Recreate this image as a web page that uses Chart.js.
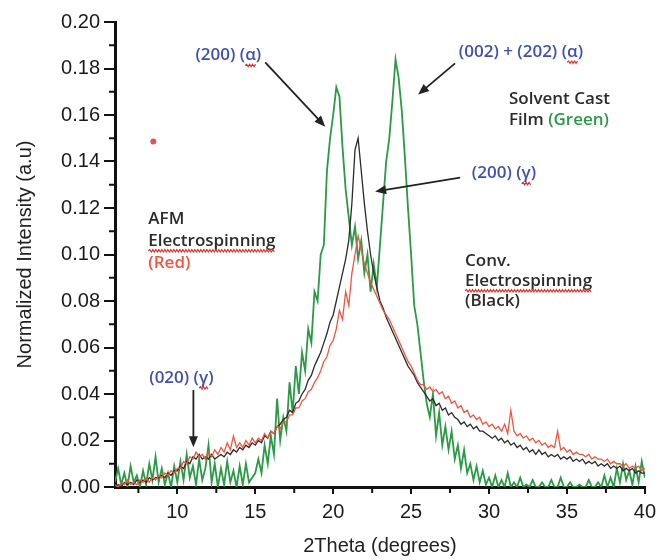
<!DOCTYPE html>
<html>
<head>
<meta charset="utf-8">
<script src="https://cdn.jsdelivr.net/npm/chart.js@4.4.1/dist/chart.umd.min.js"></script>
<style>
  html, body { margin: 0; padding: 0; background: #fff; }
  #wrap { width: 662px; height: 560px; }
</style>
</head>
<body>
<div id="wrap"><canvas id="xrdChart"></canvas></div>
<script>
// --- XRD patterns: solvent cast film vs. electrospun fibres ---

// 2Theta sampling grid (6..40 deg, every 0.2 deg)
const thetaStart = 6, thetaStep = 0.2, thetaCount = 171;
const twoTheta = Array.from({ length: thetaCount }, (_, i) => +(thetaStart + i * thetaStep).toFixed(1));

// Solvent cast film (green)
const filmGreen = [
  .002,.008,.001,.006,.000,.009,.002,.005,.000,.007,
  .001,.010,.003,.013,.002,.008,.001,.006,.000,.009,
  .002,.011,.003,.014,.004,.009,.001,.012,.003,.008,
  .018,.002,.010,.000,.008,.001,.011,.002,.007,.000,
  .009,.001,.010,.002,.004,.006,.012,.006,.018,.010,
  .022,.014,.038,.020,.030,.024,.045,.032,.052,.040,
  .058,.050,.068,.062,.084,.080,.100,.104,.136,.150,
  .160,.172,.168,.146,.128,.116,.104,.112,.098,.106,
  .092,.100,.084,.096,.086,.104,.122,.140,.150,.166,
  .184,.176,.162,.142,.120,.100,.078,.070,.058,.046,
  .036,.030,.040,.022,.032,.018,.026,.016,.024,.012,
  .018,.008,.016,.006,.010,.003,.009,.002,.007,.001,
  .004,.000,.005,.000,.003,.000,.006,.000,.002,.000,
  .004,.000,.001,.000,.003,.000,.000,.002,.000,.000,
  .003,.000,.000,.004,.000,.000,.002,.000,.000,.001,
  .000,.000,.003,.000,.000,.002,.000,.005,.000,.004,
  .000,.008,.002,.010,.003,.007,.001,.009,.002,.011,
  .004
];

// Conventional electrospinning (black)
const convBlack = [
  .000,.001,.000,.002,.001,.002,.001,.003,.002,.003,
  .002,.004,.003,.004,.004,.005,.004,.006,.005,.007,
  .007,.009,.008,.011,.010,.013,.012,.014,.012,.013,
  .012,.014,.012,.013,.014,.013,.015,.014,.016,.015,
  .017,.016,.018,.017,.019,.018,.020,.019,.022,.021,
  .024,.023,.026,.027,.029,.030,.033,.032,.036,.037,
  .040,.042,.046,.048,.052,.055,.058,.062,.066,.071,
  .074,.080,.086,.092,.098,.106,.122,.145,.150,.136,
  .122,.110,.100,.092,.086,.080,.077,.073,.070,.067,
  .064,.061,.058,.055,.052,.050,.048,.045,.043,.041,
  .039,.037,.038,.035,.036,.033,.034,.031,.032,.030,
  .029,.027,.028,.026,.027,.025,.026,.024,.024,.023,
  .022,.021,.022,.020,.021,.019,.020,.018,.019,.017,
  .018,.016,.017,.015,.016,.014,.016,.014,.015,.013,
  .014,.013,.014,.012,.013,.012,.013,.011,.012,.011,
  .012,.010,.011,.010,.011,.009,.010,.009,.010,.008,
  .009,.008,.009,.007,.008,.007,.008,.006,.007,.006,
  .006
];

// AFM electrospinning (red)
const afmRed = [
  .001,.000,.002,.001,.003,.001,.002,.001,.003,.002,
  .004,.002,.004,.003,.005,.004,.006,.005,.007,.006,
  .008,.008,.011,.010,.013,.012,.015,.013,.014,.012,
  .015,.013,.016,.014,.017,.015,.019,.016,.022,.017,
  .019,.017,.020,.018,.021,.019,.021,.020,.023,.021,
  .024,.023,.026,.025,.028,.028,.031,.031,.034,.034,
  .037,.038,.041,.042,.045,.047,.050,.054,.056,.061,
  .063,.068,.076,.072,.084,.078,.092,.100,.108,.102,
  .096,.092,.088,.085,.082,.079,.076,.074,.072,.069,
  .066,.063,.060,.057,.054,.052,.049,.046,.044,.044,
  .042,.043,.041,.042,.040,.041,.038,.039,.036,.037,
  .034,.035,.032,.033,.030,.031,.029,.030,.027,.028,
  .026,.027,.025,.026,.024,.027,.023,.033,.024,.022,
  .023,.021,.022,.020,.021,.019,.020,.018,.019,.017,
  .018,.017,.024,.016,.017,.015,.016,.014,.015,.014,
  .014,.013,.014,.012,.013,.012,.012,.011,.012,.010,
  .011,.010,.010,.009,.010,.008,.009,.008,.009,.007,
  .008
];

// lone red marker left of the peaks
const strayX = [8.46];
const strayY = [0.1486];

// axis ticks
const xTicks = [10, 15, 20, 25, 30, 35, 40];
const xMinorTicks = [7.5, 12.5, 17.5, 22.5, 27.5, 32.5, 37.5];
const yTicks = [0, 0.02, 0.04, 0.06, 0.08, 0.10, 0.12, 0.14, 0.16, 0.18, 0.20];
const yMinorTicks = [0.01, 0.03, 0.05, 0.07, 0.09, 0.11, 0.13, 0.15, 0.17, 0.19];

// colours
const BLUE = '#4150b0', INK = '#2b2b2b', GREEN = '#2a9a45', RED = '#f2553f';

// annotation texts: [text, colour, squiggle?]
const notes = [
  { parts: [['(200) (', BLUE], ['α', BLUE, true], [')', BLUE]], x: 13.27, y: 0.1856, align: 'center' },
  { parts: [['(002) + (202) (', BLUE], ['α', BLUE, true], [')', BLUE]], x: 32.05, y: 0.187, align: 'center' },
  { parts: [['Solvent Cast', INK]], x: 31.28, y: 0.1667 },
  { parts: [['Film ', INK], ['(Green)', GREEN]], x: 31.28, y: 0.1576 },
  { parts: [['(200) (', BLUE], ['γ', BLUE, true], [')', BLUE]], x: 30.96, y: 0.1348, align: 'center' },
  { parts: [['AFM', INK]], x: 8.14, y: 0.1153 },
  { parts: [['Electrospinning', INK, true]], x: 8.14, y: 0.1059 },
  { parts: [['(Red)', RED]], x: 8.14, y: 0.0964 },
  { parts: [['Conv.', INK]], x: 28.46, y: 0.0973 },
  { parts: [['Electrospinning', INK, true]], x: 28.46, y: 0.0887 },
  { parts: [['(Black)', INK]], x: 28.46, y: 0.0800 },
  { parts: [['(020) (', BLUE], ['γ', BLUE, true], [')', BLUE]], x: 10.26, y: 0.0469, align: 'center' }
];

// arrows: from [x, y] to [x, y] in data units
const arrows = [
  [[15.64, 0.1826], [19.49, 0.155]],
  [[27.82, 0.1822], [25.45, 0.1688]],
  [[28.14, 0.1331], [22.69, 0.1271]],
  [[11.03, 0.0417], [11.03, 0.0171]]
];

const toPoints = (ys) => ys.map((v, i) => ({ x: twoTheta[i], y: v }));

function squiggle(ctx, x0, x1, y) {
  ctx.save();
  ctx.strokeStyle = '#e0302a';
  ctx.lineWidth = 1.2;
  ctx.beginPath();
  ctx.moveTo(x0, y);
  let up = true;
  for (let x = x0 + 1.5; x <= x1; x += 1.5) {
    ctx.lineTo(x, up ? y - 1.2 : y + 1.2);
    up = !up;
  }
  ctx.stroke();
  ctx.restore();
}

function drawArrow(ctx, x0, y0, x1, y1) {
  const ang = Math.atan2(y1 - y0, x1 - x0);
  const len = 11, half = 4.5;
  ctx.save();
  ctx.strokeStyle = '#222';
  ctx.fillStyle = '#222';
  ctx.lineWidth = 1.8;
  ctx.beginPath();
  ctx.moveTo(x0, y0);
  ctx.lineTo(x1 - Math.cos(ang) * len * 0.8, y1 - Math.sin(ang) * len * 0.8);
  ctx.stroke();
  ctx.beginPath();
  ctx.moveTo(x1, y1);
  ctx.lineTo(x1 - Math.cos(ang) * len - Math.sin(ang) * half, y1 - Math.sin(ang) * len + Math.cos(ang) * half);
  ctx.lineTo(x1 - Math.cos(ang) * len + Math.sin(ang) * half, y1 - Math.sin(ang) * len - Math.cos(ang) * half);
  ctx.closePath();
  ctx.fill();
  ctx.restore();
}

const extrasPlugin = {
  id: 'extras',
  afterDraw(chart) {
    const { ctx, chartArea } = chart;
    const xs = chart.scales.x, ys = chart.scales.y;

    // minor ticks
    ctx.save();
    ctx.strokeStyle = '#111';
    ctx.lineWidth = 2;
    yMinorTicks.forEach(v => {
      const py = ys.getPixelForValue(v);
      ctx.beginPath(); ctx.moveTo(chartArea.left - 6, py); ctx.lineTo(chartArea.left, py); ctx.stroke();
    });
    xMinorTicks.forEach(v => {
      const px = xs.getPixelForValue(v);
      ctx.beginPath(); ctx.moveTo(px, chartArea.bottom); ctx.lineTo(px, chartArea.bottom + 6); ctx.stroke();
    });
    ctx.restore();

    // labels
    ctx.save();
    ctx.font = '600 17px "Open Sans"';
    ctx.textBaseline = 'middle';
    ctx.textAlign = 'left';
    notes.forEach(note => {
      const widths = note.parts.map(p => ctx.measureText(p[0]).width);
      const total = widths.reduce((a, b) => a + b, 0);
      let px = xs.getPixelForValue(note.x);
      const py = ys.getPixelForValue(note.y);
      if (note.align === 'center') px -= total / 2;
      note.parts.forEach((p, i) => {
        ctx.fillStyle = p[1];
        ctx.fillText(p[0], px, py);
        if (p[2]) squiggle(ctx, px, px + widths[i], py + 10);
        px += widths[i];
      });
    });
    ctx.restore();

    arrows.forEach(([a, b]) => {
      drawArrow(ctx, xs.getPixelForValue(a[0]), ys.getPixelForValue(a[1]),
                     xs.getPixelForValue(b[0]), ys.getPixelForValue(b[1]));
    });
  }
};

const tickFont = { family: 'Liberation Sans, Arial, sans-serif', size: 20 };

new Chart(document.getElementById('xrdChart'), {
  type: 'line',
  data: {
    datasets: [
      { label: 'AFM Electrospinning', data: toPoints(afmRed), borderColor: RED, borderWidth: 1.3, pointRadius: 0 },
      { label: 'Conv. Electrospinning', data: toPoints(convBlack), borderColor: INK, borderWidth: 1.3, pointRadius: 0 },
      { label: 'Solvent Cast Film', data: toPoints(filmGreen), borderColor: GREEN, borderWidth: 1.8, pointRadius: 0 },
      { type: 'scatter', label: 'marker', data: strayX.map((x, i) => ({ x: x, y: strayY[i] })),
        pointRadius: 3, pointBackgroundColor: '#d8574f', pointBorderWidth: 0 }
    ]
  },
  options: {
    responsive: true,
    maintainAspectRatio: false,
    animation: false,
    layout: { padding: { top: 22, right: 17, left: 0, bottom: 0 } },
    plugins: { legend: { display: false }, tooltip: { enabled: false } },
    scales: {
      x: {
        type: 'linear',
        min: 6,
        max: 40,
        afterBuildTicks: s => { s.ticks = xTicks.map(v => ({ value: v })); },
        afterFit: s => { s.height = 73; },
        border: { color: '#111', width: 3 },
        grid: { drawOnChartArea: false, tickLength: 7, color: '#111', lineWidth: 2 },
        ticks: { font: tickFont, color: '#1a1a1a', padding: 6, maxRotation: 0 },
        title: { display: true, text: '2Theta (degrees)', font: tickFont, color: '#222', padding: { top: 0, bottom: 2 } }
      },
      y: {
        min: 0,
        max: 0.2,
        afterBuildTicks: s => { s.ticks = yTicks.map(v => ({ value: v })); },
        afterFit: s => { s.width = 115; },
        border: { color: '#111', width: 3 },
        grid: { drawOnChartArea: false, tickLength: 11, color: '#111', lineWidth: 2 },
        ticks: { font: tickFont, color: '#1a1a1a', padding: 4, callback: v => v.toFixed(2) },
        title: { display: true, text: 'Normalized Intensity (a.u)', font: tickFont, color: '#222', padding: { top: 13, bottom: 0 } }
      }
    }
  },
  plugins: [extrasPlugin]
});
</script>
</body>
</html>
